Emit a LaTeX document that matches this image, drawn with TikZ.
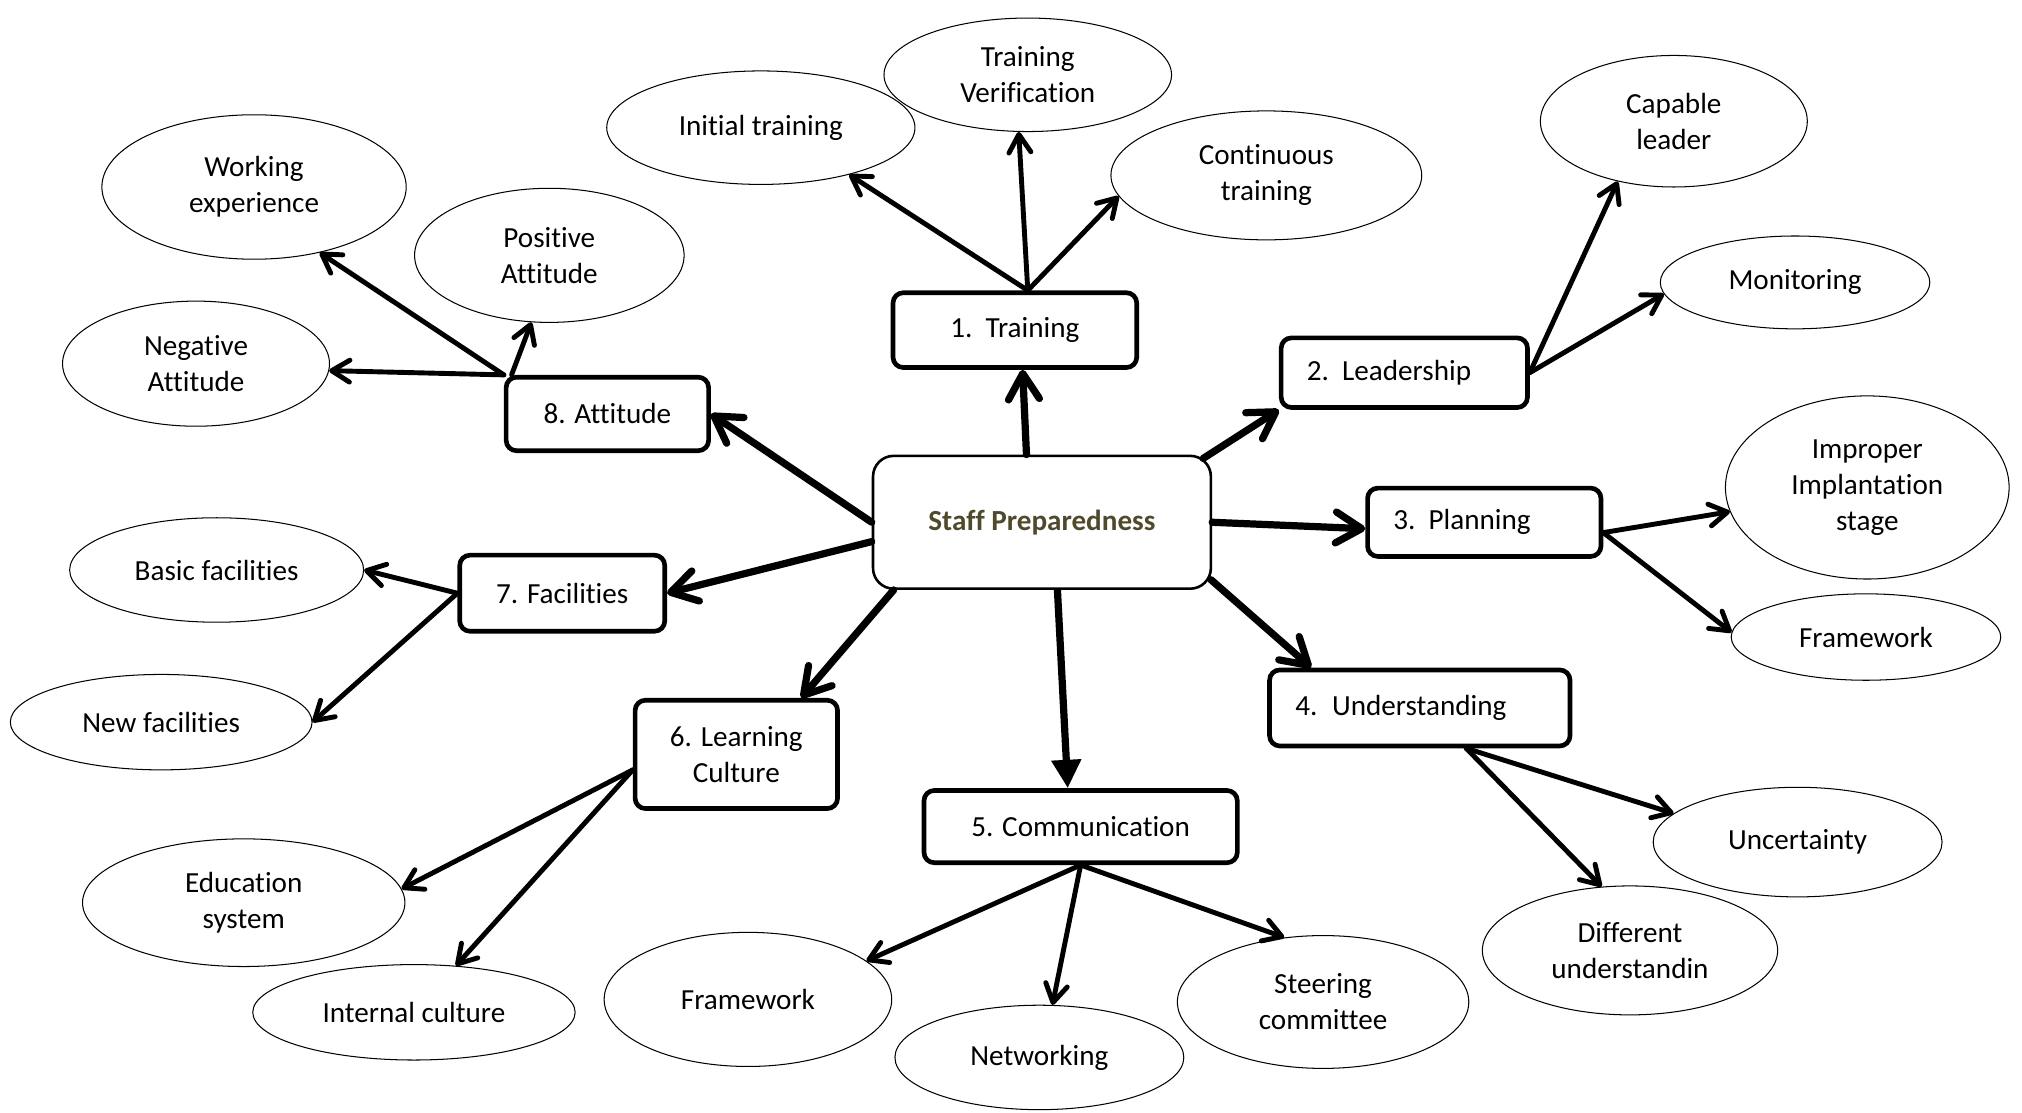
\documentclass[tikz,border=0pt]{standalone}
\usepackage{fontspec}
\setmainfont{Carlito}[Ligatures=NoCommon]
\usetikzlibrary{shapes.geometric, arrows.meta, positioning}
\definecolor{staffcol}{RGB}{80,74,45}

\begin{document}
\begin{tikzpicture}[x=0.5pt, y=-0.5pt,
  every node/.style={font=\fontsize{11.3}{14}\selectfont},
  hub/.style={draw, rounded corners=8pt, line width=1pt, minimum width=131pt, minimum height=51.5pt,
    font=\fontsize{11.3}{14}\selectfont\bfseries, text=staffcol},
  topic/.style={draw, rounded corners=4pt, line width=1.8pt, align=center, inner sep=2pt},
  listtopic/.style={topic, align=left, inner xsep=10pt},
  idea/.style={draw, ellipse, line width=0.4pt, align=center, inner sep=0pt},
  main/.style={line width=2.8pt, line cap=round, -{Straight Barb[length=10pt, width=12pt, round]}},
  branch/.style={line width=1.9pt, line cap=round, -{Straight Barb[length=7pt, width=8.5pt, round]}}]

        % page frame
        \useasboundingbox (0,0) rectangle (1568,863);

        % the hub
        \node[hub] (sp) at (808,405) {Staff Preparedness};

        % the eight topics
        \node[topic, minimum width=94.5pt, minimum height=29pt] (train) at (787,256) {1.\hspace{0.45em}Training};
        \node[listtopic, text width=75.5pt, minimum height=27pt] (lead) at (1089,289) {2.\hspace{0.45em}Leadership};
        \node[listtopic, text width=70.5pt, minimum height=26.5pt] (plan) at (1151,405) {3.\hspace{0.45em}Planning};
        \node[listtopic, text width=96.5pt, minimum height=29.5pt] (und) at (1101,549) {4. Understanding};
        \node[topic, minimum width=121.5pt, minimum height=28pt] (comm) at (838,641) {5. Communication};
        \node[topic, minimum width=78.5pt, minimum height=42pt] (learn) at (571,585) {6. Learning\\Culture};
        \node[topic, minimum width=79.5pt, minimum height=29.5pt] (fac) at (436,460) {7. Facilities};
        \node[topic, minimum width=78.5pt, minimum height=28.5pt] (att) at (471,321) {8. Attitude};

        % the ideas round each topic
        \node[idea, minimum width=119.5pt, minimum height=44pt] (it) at (590,99) {Initial training};
        \node[idea, minimum width=111.5pt, minimum height=44pt] (tv) at (797,58) {Training\\Verification};
        \node[idea, minimum width=120.5pt, minimum height=50pt] (ct) at (982,136) {Continuous\\training};
        \node[idea, minimum width=103.5pt, minimum height=51pt] (cl) at (1298,94) {Capable\\leader};
        \node[idea, minimum width=104.5pt, minimum height=36pt] (mon) at (1392,219) {Monitoring};
        \node[idea, minimum width=110pt, minimum height=71pt] (imp) at (1448,378) {Improper\\Implantation\\stage};
        \node[idea, minimum width=104.5pt, minimum height=33.5pt] (fwr) at (1447,494) {Framework};
        \node[idea, minimum width=112pt, minimum height=42.5pt] (unc) at (1394,653) {Uncertainty};
        \node[idea, minimum width=114.5pt, minimum height=50pt] (du) at (1264,737) {Different\\understandin};
        \node[idea, minimum width=113pt, minimum height=51.5pt] (stc) at (1026,777) {Steering\\committee};
        \node[idea, minimum width=112pt, minimum height=40.5pt] (net) at (806,820) {Networking};
        \node[idea, minimum width=111.5pt, minimum height=52pt] (fwb) at (580,775) {Framework};
        \node[idea, minimum width=125pt, minimum height=37pt] (ic) at (321,785) {Internal culture};
        \node[idea, minimum width=125pt, minimum height=49.5pt] (es) at (189,700) {Education\\system};
        \node[idea, minimum width=117pt, minimum height=37pt] (nf) at (125,560) {New facilities};
        \node[idea, minimum width=114pt, minimum height=40.5pt] (bf) at (168,442) {Basic facilities};
        \node[idea, minimum width=103.5pt, minimum height=48.5pt] (na) at (152,282) {Negative\\Attitude};
        \node[idea, minimum width=118pt, minimum height=56pt] (we) at (197,145) {Working\\experience};
        \node[idea, minimum width=104.5pt, minimum height=52pt] (pa) at (426,198) {Positive\\Attitude};

        % hub to topics
        \draw[main] ([xshift=-6pt]sp.north) -- ([xshift=3pt]train.south);
        \draw[main] ([xshift=-3.5pt, yshift=-1.5pt]sp.north east) -- (lead.south west);
        \draw[main] (sp.east) -- ([yshift=-2.5pt]plan.west);
        \draw[main] ([xshift=-0.5pt, yshift=4pt]sp.south east) -- ([xshift=17pt]und.north west);
        \draw[line width=2.8pt, -{Triangle[length=11pt, width=11pt]}] ([xshift=6pt]sp.south) -- ([xshift=-5pt]comm.north);
        \draw[main] ([xshift=8.5pt]sp.south west) -- ([xshift=-15pt]learn.north east);
        \draw[main] ([yshift=-7.5pt]sp.west) -- (fac.east);
        \draw[main] (sp.west) -- (att.east);

        % start points of the branches
        \coordinate (trainTop) at ([xshift=5pt]train.north);
        \coordinate (planOut) at ([yshift=-4pt]plan.east);
        \coordinate (undOut) at ([xshift=18pt]und.south);
        \coordinate (learnOut) at ([yshift=-6pt]learn.west);
        \coordinate (attTop) at ([xshift=3pt]att.north west);

        % topics to ideas
        \foreach \s/\t in {trainTop/it.-28, trainTop/tv.-99, trainTop/ct.188,
                           lead.east/cl.227, lead.east/mon.185,
                           planOut/imp.190, planOut/fwr.178,
                           undOut/unc.167, undOut/du.114,
                           comm.south/stc.121, comm.south/net.76, comm.south/fwb.18,
                           learnOut/es.5, learnOut/ic.48,
                           fac.west/bf.east, fac.west/nf.east,
                           att.north west/na.-3, att.north west/we.-45, attTop/pa.-105}
                \draw[branch] (\s) -- (\t);

\end{tikzpicture}
\end{document}
